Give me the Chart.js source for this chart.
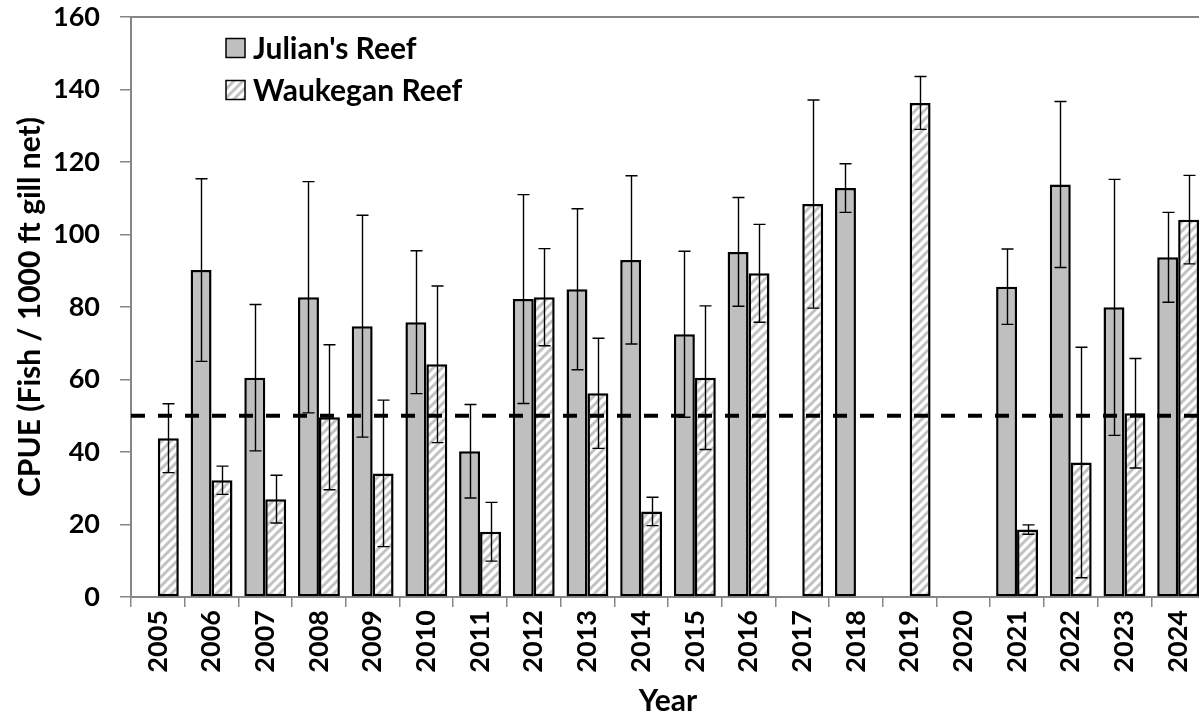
<!DOCTYPE html>
<html>
<head>
<meta charset="utf-8">
<title>CPUE by year</title>
<script src="https://cdn.jsdelivr.net/npm/chart.js@4.4.1/dist/chart.umd.min.js"></script>
<style>
  html, body { margin: 0; padding: 0; background: #fff; overflow: hidden; }
  #wrap { position: relative; width: 1206px; height: 719px; }
</style>
</head>
<body>
<div id="wrap"><canvas id="c"></canvas></div>
<script>
// Survey years
const years = ['2005','2006','2007','2008','2009','2010','2011','2012','2013','2014',
               '2015','2016','2017','2018','2019','2020','2021','2022','2023','2024'];

// Julian's Reef: mean CPUE and its error (null = not sampled)
const julianCPUE = [null, 90.2, 60.5, 82.7, 74.7, 75.8, 40.2, 82.2, 84.9, 93.0,
                    72.5, 95.2, null, 112.8, null, null, 85.6, 113.8, 79.9, 93.7];
const julianErr  = [null, 25.2, 20.2, 31.9, 30.6, 19.7, 12.9, 28.8, 22.2, 23.2,
                    22.9, 15.0, null, 6.7, null, null, 10.4, 22.9, 35.3, 12.4];

// Waukegan Reef: mean CPUE and its error
const waukeganCPUE = [43.8, 32.2, 27.0, 49.6, 34.1, 64.2, 18.0, 82.7, 56.2, 23.6,
                      60.5, 89.3, 108.4, null, 136.3, null, 18.6, 37.1, 50.7, 104.1];
const waukeganErr  = [9.5, 3.9, 6.6, 20.0, 20.2, 21.6, 8.1, 13.4, 15.2, 3.9,
                      19.8, 13.5, 28.7, null, 7.3, null, 1.3, 31.8, 15.1, 12.2];

// Reference CPUE level shown as the dashed line
const referenceCPUE = [50];

// Value axis range
const yRange = [0, 160, 20];

const FONT = 'Lato';
const AXIS_GREY = '#868686';
const JULIAN_FILL = '#bfbfbf';

const canvas = document.getElementById('c');
const ctx = canvas.getContext('2d');

// Diagonal light-grey hatch for the Waukegan bars
function makeHatch() {
  const s = 9;
  const t = document.createElement('canvas');
  t.width = s; t.height = s;
  const g = t.getContext('2d');
  g.fillStyle = '#ffffff';
  g.fillRect(0, 0, s, s);
  g.strokeStyle = '#c2c2c2';
  g.lineWidth = 3;
  g.beginPath();
  g.moveTo(-2, s + 2); g.lineTo(s + 2, -2);
  g.moveTo(-3, 3);     g.lineTo(3, -3);
  g.moveTo(s - 3, s + 3); g.lineTo(s + 3, s - 3);
  g.stroke();
  return ctx.createPattern(t, 'repeat');
}
const hatch = makeHatch();

// Error bars with caps, centred on each bar
const errorBars = {
  id: 'errorBars',
  afterDatasetsDraw(chart) {
    const c = chart.ctx;
    const y = chart.scales.y;
    c.save();
    c.strokeStyle = '#000';
    c.lineWidth = 1.4;
    chart.data.datasets.forEach((ds, di) => {
      const meta = chart.getDatasetMeta(di);
      meta.data.forEach((bar, i) => {
        const v = ds.data[i], e = ds.errors[i];
        if (v == null || e == null) return;
        const x = Math.round(bar.x) + 0.5;
        const yt = y.getPixelForValue(v + e);
        const yb = y.getPixelForValue(v - e);
        const cap = 6;
        c.beginPath();
        c.moveTo(x, yt); c.lineTo(x, yb);
        c.moveTo(x - cap, yt); c.lineTo(x + cap, yt);
        c.moveTo(x - cap, yb); c.lineTo(x + cap, yb);
        c.stroke();
      });
    });
    c.restore();
  }
};

// Dashed reference line across the plot, plus the top frame line
const refLine = {
  id: 'refLine',
  afterDatasetsDraw(chart) {
    const c = chart.ctx;
    const a = chart.chartArea;
    const y = chart.scales.y;
    c.save();
    c.strokeStyle = AXIS_GREY;
    c.lineWidth = 2;
    c.beginPath();
    c.moveTo(a.left, a.top); c.lineTo(a.right, a.top);
    c.stroke();
    c.strokeStyle = '#000';
    c.lineWidth = 4;
    c.setLineDash([14, 13]);
    referenceCPUE.forEach(v => {
      const py = y.getPixelForValue(v);
      c.beginPath();
      c.moveTo(a.left, py); c.lineTo(a.right, py);
      c.stroke();
    });
    c.restore();
  }
};

// Legend stacked in the upper-left corner of the plot
const cornerLegend = {
  id: 'cornerLegend',
  afterDraw(chart) {
    const c = chart.ctx;
    const a = chart.chartArea;
    const x0 = a.left + 95, y0 = a.top + 31, step = 42, box = 19;
    c.save();
    c.font = 'bold 30px ' + FONT;
    c.textBaseline = 'middle';
    c.textAlign = 'left';
    chart.data.datasets.forEach((ds, i) => {
      const cy = y0 + i * step;
      c.fillStyle = ds.backgroundColor;
      c.fillRect(x0, cy - box / 2, box, box);
      c.strokeStyle = '#000';
      c.lineWidth = 1.5;
      c.strokeRect(x0, cy - box / 2, box, box);
      c.fillStyle = '#000';
      c.fillText(ds.label, x0 + box + 8, cy + 1);
    });
    c.restore();
  }
};

Chart.defaults.color = '#000';
Chart.defaults.font.family = FONT;

new Chart(canvas, {
  type: 'bar',
  data: {
    labels: years,
    datasets: [
      {
        label: "Julian's Reef",
        data: julianCPUE,
        errors: julianErr,
        backgroundColor: JULIAN_FILL,
        borderColor: '#000',
        borderWidth: 2.5,
        borderSkipped: false
      },
      {
        label: 'Waukegan Reef',
        data: waukeganCPUE,
        errors: waukeganErr,
        backgroundColor: hatch,
        borderColor: '#000',
        borderWidth: 2.5,
        borderSkipped: false
      }
    ]
  },
  options: {
    responsive: true,
    maintainAspectRatio: false,
    devicePixelRatio: 1,
    animation: false,
    layout: { padding: { top: 17, right: 1, left: 0, bottom: 0 } },
    datasets: { bar: { categoryPercentage: 0.78, barPercentage: 1.0 } },
    plugins: { legend: { display: false }, tooltip: { enabled: false } },
    scales: {
      x: {
        grid: { offset: true, drawOnChartArea: false, drawTicks: true, tickLength: 10, color: AXIS_GREY, lineWidth: 1.5 },
        border: { display: true, color: AXIS_GREY, width: 2 },
        ticks: { minRotation: 90, maxRotation: 90, autoSkip: false, padding: 3,
                 font: { family: FONT, weight: 'bold', size: 27 } },
        title: { display: true, text: 'Year', padding: { top: 0, bottom: 0 },
                 font: { family: FONT, weight: 'bold', size: 30, lineHeight: 1.2 } },
        afterFit(scale) { scale.height = 122; scale.paddingLeft = 0; scale.paddingRight = 0; }
      },
      y: {
        min: yRange[0], max: yRange[1],
        grid: { drawOnChartArea: false, drawTicks: true, tickLength: 11, color: AXIS_GREY, lineWidth: 1.5 },
        border: { display: true, color: AXIS_GREY, width: 2 },
        ticks: { stepSize: yRange[2], padding: 20,
                 font: { family: FONT, weight: 'bold', size: 27 } },
        title: { display: true, text: 'CPUE (Fish / 1000 ft gill net)', padding: { top: 12, bottom: 0 },
                 font: { family: FONT, weight: 'bold', size: 30, lineHeight: 1.2 } },
        afterFit(scale) { scale.width = 131; scale.paddingTop = 0; scale.paddingBottom = 0; }
      }
    }
  },
  plugins: [refLine, errorBars, cornerLegend]
});
</script>
</body>
</html>
